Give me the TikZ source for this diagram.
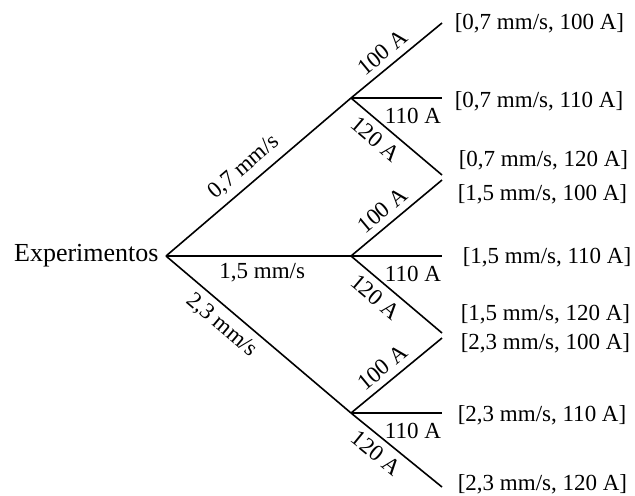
\documentclass[tikz,border=0pt]{standalone}
\usepackage{fontspec}
\setmainfont{Liberation Serif}

\begin{document}
\begin{tikzpicture}[x=0.5pt,y=-0.5pt,line width=0.8pt,
  every node/.style={font=\fontsize{11.5}{14}\selectfont},
  leaf/.style={anchor=west,inner sep=0pt}]
\useasboundingbox (0,0) rectangle (635,495);
% root and speed branches
\node[anchor=east,font=\fontsize{13}{15}\selectfont] (exp) at (166,256) {Experimentos};
\coordinate (v1) at (351,98);
\coordinate (v2) at (351,256);
\coordinate (v3) at (351,413);
\draw (exp.east) -- node[above,sloped,pos=0.48] {0,7 mm/s} (v1);
\draw (exp.east) -- node[below,pos=0.52] {1,5 mm/s} (v2);
\draw (exp.east) -- node[below,sloped,pos=0.36] {2,3 mm/s} (v3);
% line ends
\coordinate (e1) at (442,23);
\coordinate (e2) at (442,98);
\coordinate (e3) at (442,175);
\coordinate (e4) at (442,180);
\coordinate (e5) at (442,256);
\coordinate (e6) at (442,333);
\coordinate (e7) at (442,338);
\coordinate (e8) at (442,413);
\coordinate (e9) at (442,487);
% current branches
\draw (v1) -- node[above,sloped,pos=0.45] {100 A} (e1);
\draw (v1) -- node[below,pos=0.68,yshift=-1.5pt] {110 A} (e2);
\draw (v1) -- node[below,sloped,pos=0.38] {120 A} (e3);
\draw (v2) -- node[above,sloped,pos=0.45] {100 A} (e4);
\draw (v2) -- node[below,pos=0.68,yshift=-1.5pt] {110 A} (e5);
\draw (v2) -- node[below,sloped,pos=0.38] {120 A} (e6);
\draw (v3) -- node[above,sloped,pos=0.45] {100 A} (e7);
\draw (v3) -- node[below,pos=0.68,yshift=-1.5pt] {110 A} (e8);
\draw (v3) -- node[below,sloped,pos=0.38] {120 A} (e9);
% results
\node[leaf] (l1) at (454,23) {[0,7 mm/s, 100 A]};
\node[leaf] (l2) at (454,101) {[0,7 mm/s, 110 A]};
\node[leaf] (l3) at (458,160) {[0,7 mm/s, 120 A]};
\node[leaf] (l4) at (457,194) {[1,5 mm/s, 100 A]};
\node[leaf] (l5) at (462,257) {[1,5 mm/s, 110 A]};
\node[leaf] (l6) at (460,314) {[1,5 mm/s, 120 A]};
\node[leaf] (l7) at (460,343) {[2,3 mm/s, 100 A]};
\node[leaf] (l8) at (457,415) {[2,3 mm/s, 110 A]};
\node[leaf] (l9) at (457,484) {[2,3 mm/s, 120 A]};
\end{tikzpicture}
\end{document}
